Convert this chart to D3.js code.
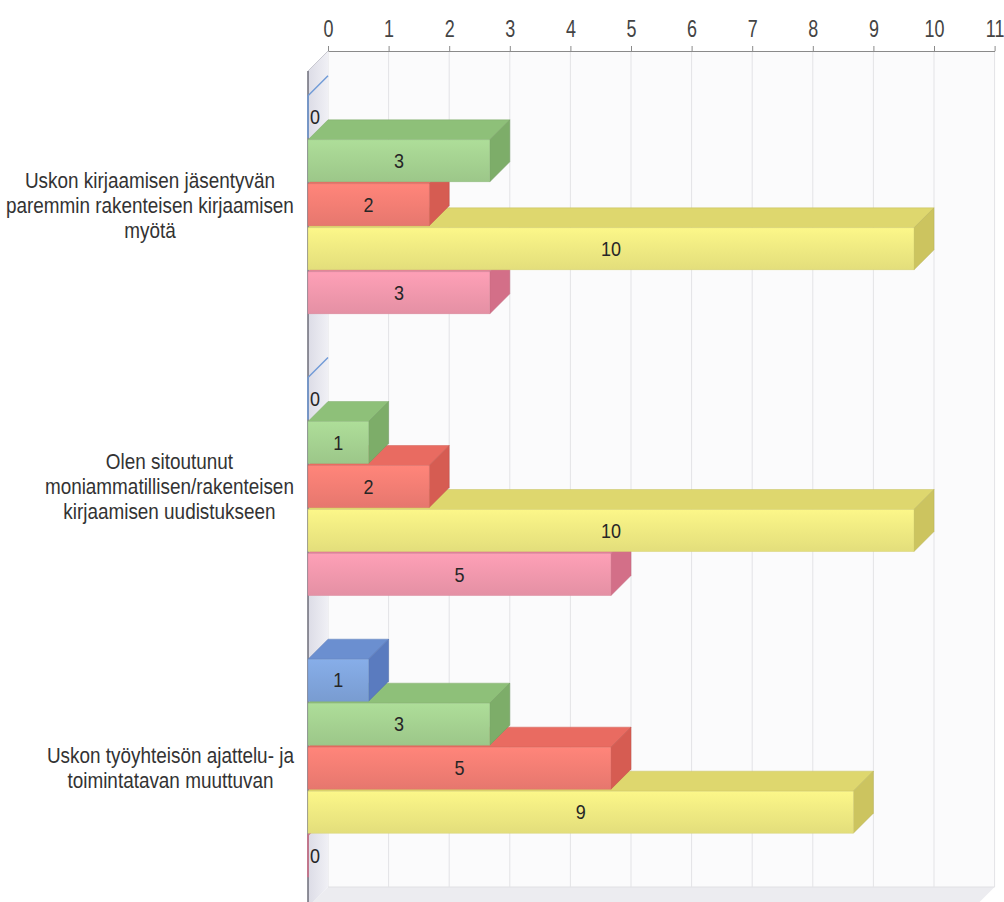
<!DOCTYPE html>
<html>
<head>
<meta charset="utf-8">
<script src="https://cdn.jsdelivr.net/npm/d3@7"></script>
<style>
  html, body { margin: 0; padding: 0; background: #ffffff; }
  svg { display: block; }
  text { font-family: 'Liberation Sans Narrow', 'Arial Narrow', 'Liberation Sans', Arial, sans-serif; }
</style>
</head>
<body>
<svg id="chart" width="1004" height="902"></svg>
<script>
// ---- data ----
const categories = [
  "Uskon kirjaamisen jäsentyvän\nparemmin rakenteisen kirjaamisen\nmyötä",
  "Olen sitoutunut\nmoniammatillisen/rakenteisen\nkirjaamisen uudistukseen",
  "Uskon työyhteisön ajattelu- ja\ntoimintatavan muuttuvan"
];
const seriesNames = ["Sarja 1", "Sarja 2", "Sarja 3", "Sarja 4", "Sarja 5"];
const series1 = [0, 0, 1];   // blue
const series2 = [3, 1, 3];   // green
const series3 = [2, 2, 5];   // red
const series4 = [10, 10, 9]; // yellow
const series5 = [3, 5, 0];   // pink
const tickValues = [0, 1, 2, 3, 4, 5, 6, 7, 8, 9, 10, 11];

const seriesValues = [series1, series2, series3, series4, series5];
const palette = [
  { front: "#80a5dd", top: "#6b8fd0", side: "#5a7bbf", zero: "#6f9ad6" },
  { front: "#a5d291", top: "#8ec079", side: "#7dad69", zero: "#7dad69" },
  { front: "#f37e74", top: "#e96b61", side: "#d65c52", zero: "#d65c52" },
  { front: "#efea82", top: "#ded76e", side: "#ccc45f", zero: "#ccc45f" },
  { front: "#f198ad", top: "#e27f98", side: "#d36f88", zero: "#d36f88" }
];

// ---- layout ----
const svg = d3.select("#chart");
const W = 1004, H = 902;
const dx = 20, dy = 20;           // 3D depth offset
const frontTop = 71, frontBottom = 907;
const unit = 60.6;

const xFront = d3.scaleLinear().domain([0, 11]).range([308, 308 + 11 * unit]);
const xBack = d3.scaleLinear().domain([0, 11]).range([308 + dx, 308 + dx + 11 * unit]);

const yCat = d3.scaleBand().domain(categories).range([64, 909]).padding(0);
const ySer = d3.scaleBand().domain(seriesNames).range([-110, 110]).padding(0);

svg.append("rect").attr("width", W).attr("height", H).attr("fill", "#ffffff");

const defs = svg.append("defs");
const wallGrad = defs.append("linearGradient").attr("id", "wallGrad")
  .attr("x1", "0").attr("x2", "1").attr("y1", "0").attr("y2", "0");
wallGrad.append("stop").attr("offset", "0").attr("stop-color", "#dcdce6");
wallGrad.append("stop").attr("offset", "1").attr("stop-color", "#f0f0f5");

palette.forEach((p, i) => {
  const g = defs.append("linearGradient").attr("id", "fg" + i)
    .attr("x1", "0").attr("x2", "0").attr("y1", "0").attr("y2", "1");
  g.append("stop").attr("offset", "0").attr("stop-color", d3.color(p.front).brighter(0.15));
  g.append("stop").attr("offset", "0.5").attr("stop-color", p.front);
  g.append("stop").attr("offset", "1").attr("stop-color", d3.color(p.front).darker(0.15));
});

const backTop = frontTop - dy, backBottom = frontBottom - dy;

// back wall
svg.append("rect")
  .attr("x", xBack(0)).attr("y", backTop)
  .attr("width", xBack(11) - xBack(0)).attr("height", backBottom - backTop)
  .attr("fill", "#fbfbfc");

// floor
svg.append("polygon")
  .attr("points", [[xFront(0), frontBottom], [xBack(0), backBottom], [xBack(11), backBottom], [xFront(11), frontBottom]].join(" "))
  .attr("fill", "#ececf0");
svg.append("line")
  .attr("x1", xBack(0)).attr("x2", xBack(11)).attr("y1", backBottom).attr("y2", backBottom)
  .attr("stroke", "#e0e0e4");

// gridlines on back wall
svg.append("g").selectAll("line").data(tickValues).join("line")
  .attr("x1", d => xBack(d)).attr("x2", d => xBack(d))
  .attr("y1", backTop).attr("y2", backBottom)
  .attr("stroke", "#e3e3e6").attr("stroke-width", 1);

// left side wall
svg.append("polygon")
  .attr("points", [[xFront(0), frontTop], [xBack(0), backTop], [xBack(0), backBottom], [xFront(0), frontBottom]].join(" "))
  .attr("fill", "url(#wallGrad)");
svg.append("line")
  .attr("x1", xFront(0)).attr("x2", xBack(0)).attr("y1", frontTop).attr("y2", backTop)
  .attr("stroke", "#c8c8d0");
svg.append("line")
  .attr("x1", xFront(0)).attr("x2", xFront(0)).attr("y1", frontTop).attr("y2", H)
  .attr("stroke", "#6d6d78").attr("stroke-width", 1.5);

// top axis
const axis = d3.axisTop(xBack).tickValues(tickValues).tickSize(5).tickSizeOuter(0).tickPadding(9);
const axG = svg.append("g").attr("transform", `translate(0,${backTop})`).call(axis);
axG.select(".domain").attr("stroke", "#8a8a8a").attr("stroke-width", 1.2);
axG.selectAll(".tick line").attr("stroke", "#8a8a8a");
axG.selectAll(".tick text")
  .attr("font-size", 23).attr("fill", "#444")
  .attr("transform", "scale(0.78,1)")
  .style("font-family", "'Liberation Sans Narrow', 'Arial Narrow', 'Liberation Sans', Arial, sans-serif");

// bars
const barH = ySer.bandwidth() - 2;
const valSx = 0.9;
const barsG = svg.append("g");
categories.forEach((cat, ci) => {
  const center = yCat(cat) + yCat.bandwidth() / 2;
  for (let si = seriesNames.length - 1; si >= 0; si--) {
    const v = seriesValues[si][ci];
    const p = palette[si];
    const y = center + ySer(seriesNames[si]) + 1;
    const x0 = xFront(0), x1 = xFront(v);
    const g = barsG.append("g");
    if (v > 0) {
      g.append("polygon")
        .attr("points", [[x0, y], [x0 + dx, y - dy], [x1 + dx, y - dy], [x1, y]].join(" "))
        .attr("fill", p.top).attr("stroke", d3.color(p.top).darker(0.3)).attr("stroke-width", 0.5);
      g.append("polygon")
        .attr("points", [[x1, y], [x1 + dx, y - dy], [x1 + dx, y + barH - dy], [x1, y + barH]].join(" "))
        .attr("fill", p.side).attr("stroke", d3.color(p.side).darker(0.3)).attr("stroke-width", 0.5);
      g.append("rect")
        .attr("x", x0).attr("y", y).attr("width", x1 - x0).attr("height", barH)
        .attr("fill", `url(#fg${si})`).attr("stroke", d3.color(p.front).darker(0.3)).attr("stroke-width", 0.5);
      g.append("text")
        .attr("transform", `translate(${(x0 + x1) / 2},${y + barH / 2}) scale(${valSx},1)`)
        .attr("dy", "0.36em")
        .attr("text-anchor", "middle").attr("font-size", 20).attr("fill", "#262626")
        .text(v);
    } else {
      g.append("line")
        .attr("x1", x0).attr("y1", y).attr("x2", x0 + dx).attr("y2", y - dy)
        .attr("stroke", p.zero).attr("stroke-width", 1.5);
      g.append("line")
        .attr("x1", x0).attr("y1", y).attr("x2", x0).attr("y2", y + barH)
        .attr("stroke", p.zero).attr("stroke-width", 1.5);
      g.append("text")
        .attr("transform", `translate(${x0 + 2},${y + barH / 2}) scale(${valSx},1)`)
        .attr("dy", "0.36em")
        .attr("text-anchor", "start").attr("font-size", 20).attr("fill", "#262626")
        .text(v);
    }
  }
});

// category labels (block right-aligned, lines centered within block)
const labelRight = 294;
const lineH = 25;
const labSx = 0.86;
categories.forEach(cat => {
  const lines = cat.split("\n");
  const center = yCat(cat) + yCat.bandwidth() / 2;
  const g = svg.append("g");
  const texts = g.selectAll("text").data(lines).join("text")
    .attr("font-size", 22).attr("fill", "#333")
    .attr("text-anchor", "middle")
    .attr("x", 0)
    .attr("y", (d, i) => center + (i - (lines.length - 1) / 2) * lineH)
    .attr("dy", "0.35em")
    .text(d => d);
  let maxW = 0;
  texts.each(function () { maxW = Math.max(maxW, this.getComputedTextLength()); });
  g.attr("transform", `translate(${labelRight - maxW * labSx / 2},0) scale(${labSx},1)`);
});
</script>
</body>
</html>
